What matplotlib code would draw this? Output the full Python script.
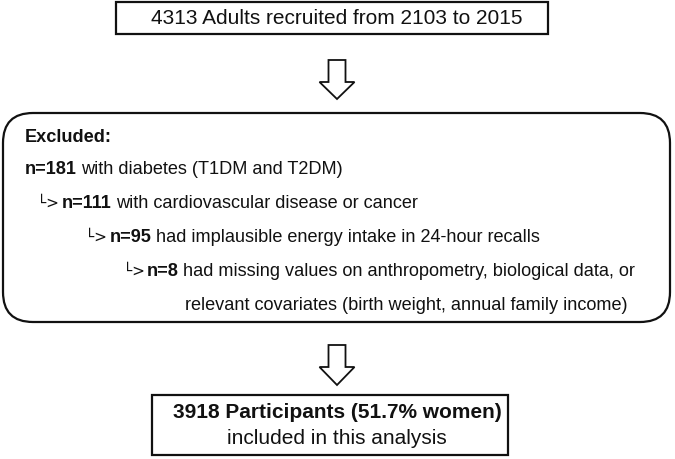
import matplotlib.pyplot as plt
from matplotlib.patches import Rectangle, FancyBboxPatch, Polygon

plt.rcParams['font.family'] = ['Liberation Sans', 'DejaVu Sans']

top_text = "4313 Adults recruited from 2103 to 2015"
excluded_title = "Excluded:"
excl_counts = ["n=181", "n=111", "n=95", "n=8"]
excl_reasons = [
    "with diabetes (T1DM and T2DM)",
    "with cardiovascular disease or cancer",
    "had implausible energy intake in 24-hour recalls",
    "had missing values on anthropometry, biological data, or",
]
excl_extra = "relevant covariates (birth weight, annual family income)"
final_bold = "3918 Participants (51.7% women)"
final_sub = "included in this analysis"

W, H = 675, 459
fig = plt.figure(figsize=(W / 100, H / 100), dpi=100)
ax = fig.add_axes([0, 0, 1, 1])
ax.set_xlim(0, W)
ax.set_ylim(H, 0)
ax.axis("off")
renderer = fig.canvas.get_renderer()

lw = 1.6
col = "#111111"
fs = 13.1


def arrow(cx, y0, y1):
    sw, hw, sh = 8.5, 17.5, 22
    pts = [(cx - sw, y0), (cx + sw, y0), (cx + sw, y0 + sh), (cx + hw, y0 + sh),
           (cx, y1), (cx - hw, y0 + sh), (cx - sw, y0 + sh)]
    ax.add_patch(Polygon(pts, closed=True, fill=False, ec=col, lw=1.3))


def mixed(x, y, bold, rest, size=fs):
    t = ax.text(x, y, bold, fontsize=size, fontweight="bold", va="center", ha="left", color=col)
    bb = t.get_window_extent(renderer)
    x_end = ax.transData.inverted().transform((bb.x1, bb.y0))[0]
    ax.text(x_end + 4, y, rest, fontsize=size, va="center", ha="left", color=col)


# top box
ax.add_patch(Rectangle((116, 1.5), 432, 32.5, fill=False, ec=col, lw=lw))
ax.text(337, 18, top_text, fontsize=15, ha="center", va="center", color=col)
arrow(337, 60, 99)

# exclusion box
ax.add_patch(FancyBboxPatch((3, 113), 667, 209, boxstyle="round,pad=0,rounding_size=30",
                            fill=False, ec=col, lw=lw))
ax.text(25, 137, excluded_title, fontsize=fs, fontweight="bold", va="center", color=col)
row_y = [170, 203, 237, 271]
hook_x = [None, 37, 85, 123]
count_x = [25, 62, 110, 147]
for i in range(len(excl_counts)):
    if hook_x[i] is not None:
        ax.text(hook_x[i], row_y[i], "\u2514>", fontsize=11, va="center", color=col,
                family=["DejaVu Sans"])
    mixed(count_x[i], row_y[i], excl_counts[i], excl_reasons[i])
ax.text(185, 306, excl_extra, fontsize=fs, va="center", color=col)

arrow(337, 345, 385)

# final box
ax.add_patch(Rectangle((152, 395), 356, 60, fill=False, ec=col, lw=lw))
ax.text(337, 412, final_bold, fontsize=15, fontweight="bold", ha="center", va="center", color=col)
ax.text(337, 438, final_sub, fontsize=15, ha="center", va="center", color=col)

fig.savefig("out.png", dpi=100)
